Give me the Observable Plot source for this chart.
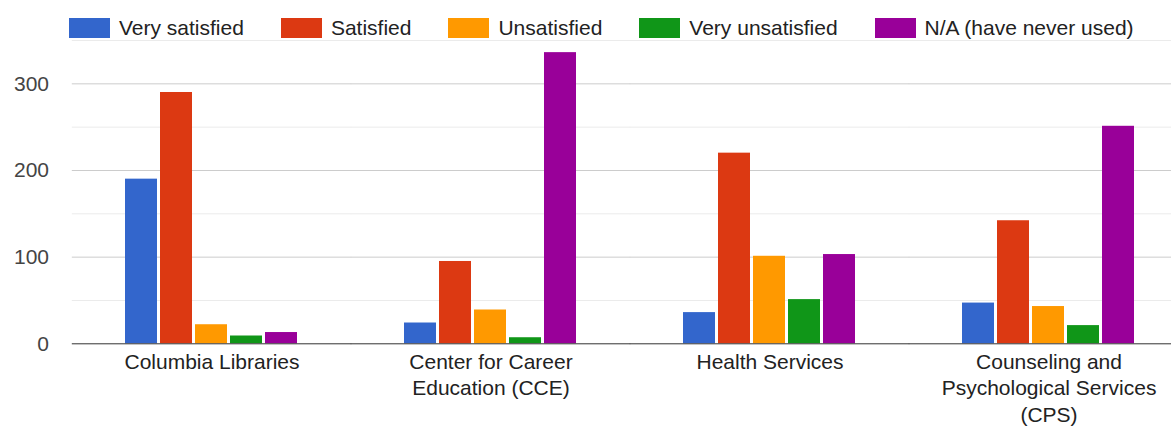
<!DOCTYPE html>
<html>
<head>
<meta charset="utf-8">
<script src="https://cdn.jsdelivr.net/npm/d3@7"></script>
<script src="https://cdn.jsdelivr.net/npm/@observablehq/plot@0.6"></script>
<style>
  html, body { margin: 0; padding: 0; background: #fff; }
  body { width: 1171px; height: 426px; overflow: hidden; font-family: "Liberation Sans", Arial, sans-serif; }
  #legend { position: relative; z-index: 2; height: 30px; overflow: visible; display: flex; align-items: flex-start; padding-left: 69px; padding-top: 18px; box-sizing: border-box; }
  #legend .item { display: flex; align-items: center; margin-right: 37px; color: #222; height: 20px; line-height: 20px; white-space: nowrap; font-size: 21px; }
  #legend .sw { width: 41px; height: 20px; margin-right: 9px; flex: none; }
  #chart svg { background: transparent; display: block; }
</style>
</head>
<body>
<div id="legend"></div>
<div id="chart"></div>
<script>
// Data
const groups = ["Columbia Libraries", "Center for Career Education (CCE)", "Health Services", "Counseling and Psychological Services (CPS)"];
const groupLabels = ["Columbia Libraries", "Center for Career\nEducation (CCE)", "Health Services", "Counseling and\nPsychological Services\n(CPS)"];
const series = ["Very satisfied", "Satisfied", "Unsatisfied", "Very unsatisfied", "N/A (have never used)"];
const colors = ["#3366cc", "#dc3912", "#ff9900", "#109618", "#990099"];
const verySatisfied = [190, 24, 36, 47];
const satisfied = [290, 95, 220, 142];
const unsatisfied = [22, 39, 101, 43];
const veryUnsatisfied = [9, 7, 51, 21];
const notUsed = [13, 336, 103, 251];
const yTicks = [0, 100, 200, 300];
const yMinor = [50, 150, 250, 350];

const valuesBySeries = [verySatisfied, satisfied, unsatisfied, veryUnsatisfied, notUsed];
const data = [];
groups.forEach((g, gi) => series.forEach((s, si) => data.push({group: g, series: s, value: valuesBySeries[si][gi]})));

const legend = document.getElementById("legend");
series.forEach((s, i) => {
  const it = document.createElement("div");
  it.className = "item";
  const sw = document.createElement("div");
  sw.className = "sw";
  sw.style.background = colors[i];
  const tx = document.createElement("span");
  tx.textContent = s;
  it.appendChild(sw); it.appendChild(tx);
  legend.appendChild(it);
});

const labelOf = new Map(groups.map((g, i) => [g, groupLabels[i]]));
const half = 53.2;

const chart = Plot.plot({
  width: 1171,
  height: 396,
  marginLeft: 70,
  marginRight: -18,
  marginTop: 10,
  marginBottom: 82.7,
  style: {fontFamily: "'Liberation Sans', Arial, sans-serif", background: "transparent"},
  fx: {domain: groups, paddingInner: 0.38, paddingOuter: 0.19, label: null},
  x: {domain: series, axis: null, paddingInner: 0.08, paddingOuter: 0},
  y: {domain: [0, 350], axis: null},
  color: {domain: series, range: colors},
  marks: [
    Plot.ruleY(yMinor, {stroke: "#ebebeb", strokeOpacity: 1, insetLeft: -half, insetRight: -half}),
    Plot.ruleY(yTicks.filter(d => d > 0), {stroke: "#cccccc", strokeOpacity: 1, insetLeft: -half, insetRight: -half}),
    Plot.barY(data, {fx: "group", x: "series", y: "value", fill: "series"}),
    Plot.ruleY([0], {stroke: "#333333", strokeOpacity: 1, insetLeft: -half, insetRight: -half}),
    Plot.axisY({ticks: yTicks, tickSize: 0, tickPadding: 76.5, fontSize: 21, fill: "#444", label: null}),
    Plot.axisFx({anchor: "bottom", tickSize: 0, tickPadding: 6, fontSize: 21, fill: "#222", lineHeight: 1.26, label: null, tickFormat: d => labelOf.get(d)})
  ]
});
document.getElementById("chart").appendChild(chart);
</script>
</body>
</html>
